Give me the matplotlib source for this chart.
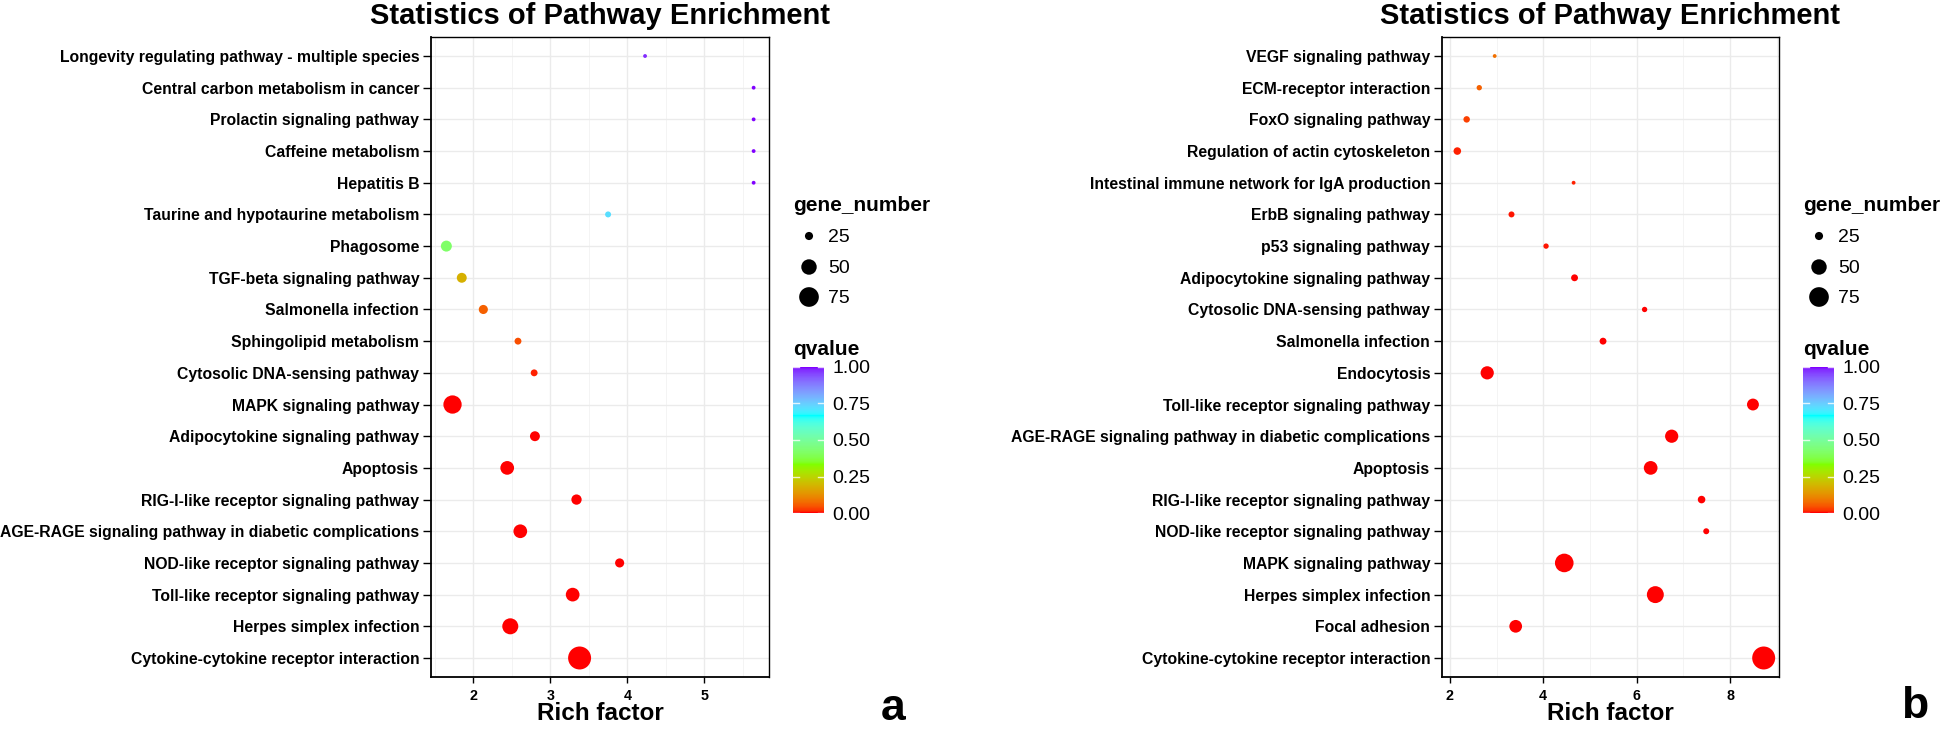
import numpy as np
import matplotlib
matplotlib.use("Agg")
import matplotlib.pyplot as plt
from matplotlib.colors import ListedColormap, Normalize
from matplotlib.cm import ScalarMappable
from matplotlib.ticker import MultipleLocator, FormatStrFormatter

plt.rcParams['font.family'] = ['Liberation Sans', 'DejaVu Sans']

# ---------------- data (top to bottom) ----------------
a_pathways = [
    "Longevity regulating pathway - multiple species",
    "Central carbon metabolism in cancer",
    "Prolactin signaling pathway",
    "Caffeine metabolism",
    "Hepatitis B",
    "Taurine and hypotaurine metabolism",
    "Phagosome",
    "TGF-beta signaling pathway",
    "Salmonella infection",
    "Sphingolipid metabolism",
    "Cytosolic DNA-sensing pathway",
    "MAPK signaling pathway",
    "Adipocytokine signaling pathway",
    "Apoptosis",
    "RIG-I-like receptor signaling pathway",
    "AGE-RAGE signaling pathway in diabetic complications",
    "NOD-like receptor signaling pathway",
    "Toll-like receptor signaling pathway",
    "Herpes simplex infection",
    "Cytokine-cytokine receptor interaction",
]
a_rich = [4.23, 5.64, 5.64, 5.64, 5.64, 3.75, 1.65, 1.85, 2.13, 2.58,
          2.79, 1.73, 2.80, 2.44, 3.34, 2.61, 3.90, 3.29, 2.48, 3.38]
a_genes = [21, 21, 21, 21, 21, 22, 32, 29, 27, 23,
           23, 66, 29, 42, 30, 42, 27, 42, 53, 100]
a_qvalue = [0.98, 1.0, 1.0, 1.0, 1.0, 0.72, 0.42, 0.18, 0.06, 0.04,
            0.01, 0.0, 0.0, 0.0, 0.0, 0.0, 0.0, 0.0, 0.0, 0.0]

b_pathways = [
    "VEGF signaling pathway",
    "ECM-receptor interaction",
    "FoxO signaling pathway",
    "Regulation of actin cytoskeleton",
    "Intestinal immune network for IgA production",
    "ErbB signaling pathway",
    "p53 signaling pathway",
    "Adipocytokine signaling pathway",
    "Cytosolic DNA-sensing pathway",
    "Salmonella infection",
    "Endocytosis",
    "Toll-like receptor signaling pathway",
    "AGE-RAGE signaling pathway in diabetic complications",
    "Apoptosis",
    "RIG-I-like receptor signaling pathway",
    "NOD-like receptor signaling pathway",
    "MAPK signaling pathway",
    "Herpes simplex infection",
    "Focal adhesion",
    "Cytokine-cytokine receptor interaction",
]
b_rich = [2.96, 2.63, 2.36, 2.16, 4.65, 3.32, 4.06, 4.67, 6.17, 5.28,
          2.80, 8.49, 6.75, 6.30, 7.39, 7.49, 4.45, 6.40, 3.41, 8.72]
b_genes = [21, 21.5, 22.5, 24, 21, 22, 21.5, 23, 21.5, 23,
           40, 35, 40, 42, 24, 22, 68, 58, 38, 100]
b_qvalue = [0.08, 0.06, 0.03, 0.01, 0.01, 0.005, 0.005, 0.0, 0.0, 0.0,
            0.0, 0.0, 0.0, 0.0, 0.0, 0.0, 0.0, 0.0, 0.0, 0.0]

legend_sizes = [25, 50, 75]
q_breaks = [0.0, 0.25, 0.50, 0.75, 1.00]
title_text = "Statistics of Pathway Enrichment"
xlabel_text = "Rich factor"

# ---------------- colour ramp (rainbow(4) interpolated in CIELAB) ----------------
ramp_hex = ["#FF0000", "#80FF00", "#00FFFF", "#8000FF"]
WHITE = np.array([0.95047, 1.0, 1.08883])
M = np.array([[0.4124564, 0.3575761, 0.1804375],
              [0.2126729, 0.7151522, 0.0721750],
              [0.0193339, 0.1191920, 0.9503041]])
Minv = np.linalg.inv(M)


def hex2rgb(h):
    return np.array([int(h[i:i + 2], 16) / 255 for i in (1, 3, 5)])


def rgb2lab(rgb):
    c = np.where(rgb <= 0.04045, rgb / 12.92, ((rgb + 0.055) / 1.055) ** 2.4)
    xyz = (M @ c) / WHITE
    f = np.where(xyz > 0.008856, np.cbrt(xyz), 7.787 * xyz + 16 / 116)
    return np.array([116 * f[1] - 16, 500 * (f[0] - f[1]), 200 * (f[1] - f[2])])


def lab2rgb(lab):
    L, a, b = lab
    fy = (L + 16) / 116
    fx = fy + a / 500
    fz = fy - b / 200
    f = np.array([fx, fy, fz])
    xyz = np.where(f ** 3 > 0.008856, f ** 3, (f - 16 / 116) / 7.787) * WHITE
    c = Minv @ xyz
    c = np.clip(c, 0, 1)
    rgb = np.where(c <= 0.0031308, 12.92 * c, 1.055 * c ** (1 / 2.4) - 0.055)
    return np.clip(rgb, 0, 1)


labs = [rgb2lab(hex2rgb(h)) for h in ramp_hex]
cols = []
N = 256
for t in np.linspace(0, 1, N):
    seg = min(int(t * 3), 2)
    u = t * 3 - seg
    cols.append(lab2rgb(labs[seg] * (1 - u) + labs[seg + 1] * u))
cmap = ListedColormap(cols)
norm = Normalize(0, 1)

# ---------------- figure ----------------
W, H = 1946, 729
DPI = 100
fig = plt.figure(figsize=(W / DPI, H / DPI), dpi=DPI)
PX2PT = 72 / DPI


def fbox(x0, y0, x1, y1):
    return [x0 / W, 1 - y1 / H, (x1 - x0) / W, (y1 - y0) / H]


def diam_px(n, nmin, nmax):
    n = np.asarray(n, dtype=float)
    return 3.83 * (1 + 5 * np.sqrt(np.clip((n - nmin) / (nmax - nmin), 0, 1)))


def panel(x0, x1, pathways, rich, genes, qv, major, minor, letter, letter_x, letter_y):
    ax = fig.add_axes(fbox(x0, 37, x1, 677))
    nmin, nmax = min(genes), max(genes)
    d = diam_px(genes, nmin, nmax) * PX2PT
    ax.set_axisbelow(True)
    ax.scatter(rich, pathways, s=d ** 2, c=qv, cmap=cmap, norm=norm,
               linewidths=0, zorder=3)
    ax.set_xmargin(0.05)
    ax.autoscale_view()
    n = len(pathways)
    ax.set_ylim(n - 0.4, -0.6)
    ax.xaxis.set_major_locator(MultipleLocator(major))
    ax.xaxis.set_minor_locator(MultipleLocator(minor))
    ax.xaxis.set_major_formatter(FormatStrFormatter('%d'))
    ax.grid(True, which='major', color='#EBEBEB', lw=1.0)
    ax.grid(True, which='minor', axis='x', color='#F4F4F4', lw=0.7)
    ax.tick_params(axis='y', which='major', length=5.5, width=1.0, pad=3,
                   labelsize=11.3, colors='black')
    ax.tick_params(axis='x', which='major', length=4.3, width=1.0, pad=4.5,
                   labelsize=10.3, colors='black')
    ax.tick_params(axis='x', which='minor', length=0)
    for lab in ax.get_yticklabels() + ax.get_xticklabels():
        lab.set_fontweight('bold')
    for sp in ax.spines.values():
        sp.set_color('black')
        sp.set_linewidth(1.0)
    ax.spines['left'].set_linewidth(1.3)
    ax.spines['bottom'].set_linewidth(1.3)
    ax.set_title(title_text, fontsize=21, fontweight='bold', pad=9.5)
    ax.set_xlabel(xlabel_text, fontsize=17.5, fontweight='bold', labelpad=-1)

    # size legend
    lx = x1 + 24
    fig.text(lx / W, 1 - 211 / H, "gene_number", fontsize=15, fontweight='bold',
             ha='left', va='baseline')
    lax = fig.add_axes(fbox(lx, 221, lx + 120, 312))
    lax.set_xlim(0, 120)
    lax.set_ylim(312, 221)
    lax.axis('off')
    ys = [236, 267, 297]
    ld = diam_px(legend_sizes, nmin, nmax) * PX2PT
    lax.scatter([16] * 3, ys, s=ld ** 2, color='black', linewidths=0, clip_on=False)
    for yy, v in zip(ys, legend_sizes):
        lax.text(35, yy, str(v), fontsize=14, ha='left', va='center_baseline')

    # colour bar legend
    fig.text(lx / W, 1 - 355 / H, "qvalue", fontsize=15, fontweight='bold',
             ha='left', va='baseline')
    cax = fig.add_axes(fbox(lx, 363, lx + 31, 517))
    cb = fig.colorbar(ScalarMappable(norm=norm, cmap=cmap), cax=cax)
    cb.outline.set_visible(False)
    cb.set_ticks(q_breaks)
    cb.ax.yaxis.set_major_formatter(FormatStrFormatter('%.2f'))
    cb.ax.tick_params(length=0, pad=6, labelsize=14)
    for q in q_breaks:
        cb.ax.plot([0, 0.2], [q, q], color='white', lw=1, alpha=0.8)
        cb.ax.plot([0.8, 1.0], [q, q], color='white', lw=1, alpha=0.8)
    cb.ax.set_xlim(0, 1)
    cb.ax.set_ylim(-0.027, 1.027)

    fig.text(letter_x / W, 1 - letter_y / H, letter, fontsize=32, fontweight='bold',
             ha='center', va='baseline')
    return ax


panel(431, 769, a_pathways, a_rich, a_genes, a_qvalue, 1, 0.5, 'a', 893, 720)
panel(1442, 1779, b_pathways, b_rich, b_genes, b_qvalue, 2, 1, 'b', 1915, 718)

fig.savefig("out.png", dpi=DPI)
